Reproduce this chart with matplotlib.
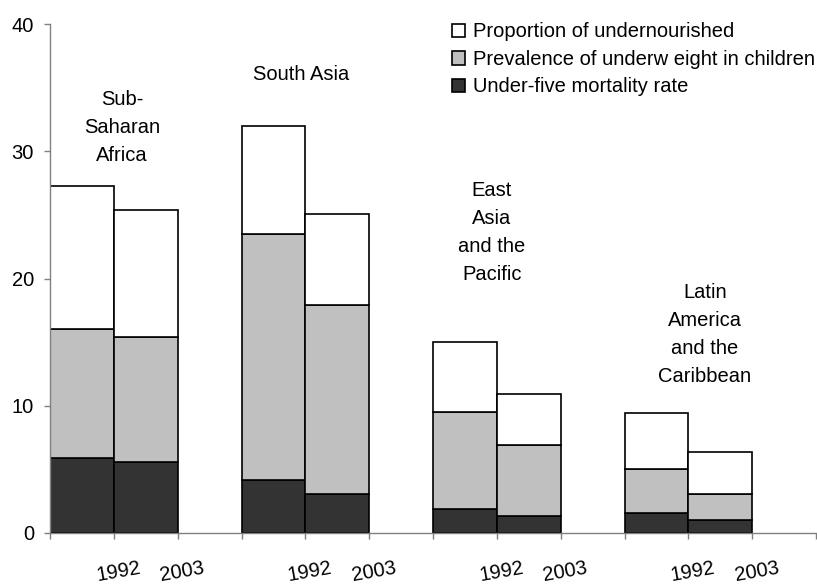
import numpy as np
import matplotlib.pyplot as plt

plt.rcParams["font.family"] = ["Liberation Sans", "DejaVu Sans"]

# bar slot positions (12 slots, every third one left empty)
slots = [0, 1, 3, 4, 6, 7, 9, 10]
years = ["1992", "2003"] * 4
regions = ["Sub-\nSaharan\nAfrica", "South Asia", "East\nAsia\nand the\nPacific",
           "Latin\nAmerica\nand the\nCaribbean"]

# stacked segment heights, bottom to top
mortality = [5.9, 5.6, 4.2, 3.1, 1.9, 1.3, 1.6, 1.0]
underweight = [10.1, 9.8, 19.3, 14.8, 7.6, 5.6, 3.4, 2.1]
undernourished = [11.3, 10.0, 8.5, 7.2, 5.5, 4.0, 4.4, 3.3]

fig = plt.figure(figsize=(8.17, 5.84), dpi=100)
ax = fig.add_axes([50 / 817, 51 / 584, 766 / 817, 509 / 584])

x = np.array(slots) + 0.5
edge = dict(edgecolor="black", linewidth=1.2, width=1.0)
b1 = ax.bar(x, mortality, color="#333333", label="Under-five mortality rate", **edge)
b2 = ax.bar(x, underweight, bottom=mortality, color="#c0c0c0",
            label="Prevalence of underw eight in children", **edge)
bottom2 = np.array(mortality) + np.array(underweight)
b3 = ax.bar(x, undernourished, bottom=bottom2, color="white",
            label="Proportion of undernourished", **edge)

ax.set_xlim(0, 12)
ax.set_ylim(0, 40)
ax.set_yticks([0, 10, 20, 30, 40])

# tick marks at slot boundaries, year labels as minor ticks just right of them
ax.set_xticks(range(13))
ax.set_xticklabels([])
ax.set_xticks([s + 1.07 for s in slots], minor=True)
ax.set_xticklabels(years, minor=True, rotation=10, ha="center")

for side in ["top", "right"]:
    ax.spines[side].set_visible(False)
for side in ["left", "bottom"]:
    ax.spines[side].set_color("#808080")
    ax.spines[side].set_linewidth(1.0)
ax.tick_params(axis="both", colors="#808080", length=4.5, width=1.0, labelsize=14.5,
               labelcolor="black")
ax.tick_params(axis="x", which="minor", length=0, pad=18.5, labelsize=14.5,
               labelcolor="black")
ax.tick_params(axis="y", pad=7)

# region labels
label_pos = [(1.13, 31.9), (3.93, 36.0), (6.92, 23.65), (10.26, 15.56)]
for name, (lx, ly) in zip(regions, label_pos):
    ax.text(lx, ly, name, ha="center", va="center", fontsize=14.5, linespacing=1.6)

ax.legend(handles=[b3, b2, b1], loc="upper left", bbox_to_anchor=(0.525, 1.003),
          frameon=False, fontsize=14.5, handlelength=0.65, handleheight=0.65,
          handletextpad=0.4, labelspacing=0.42, borderaxespad=0, borderpad=0)

fig.savefig("out.png", dpi=100)
